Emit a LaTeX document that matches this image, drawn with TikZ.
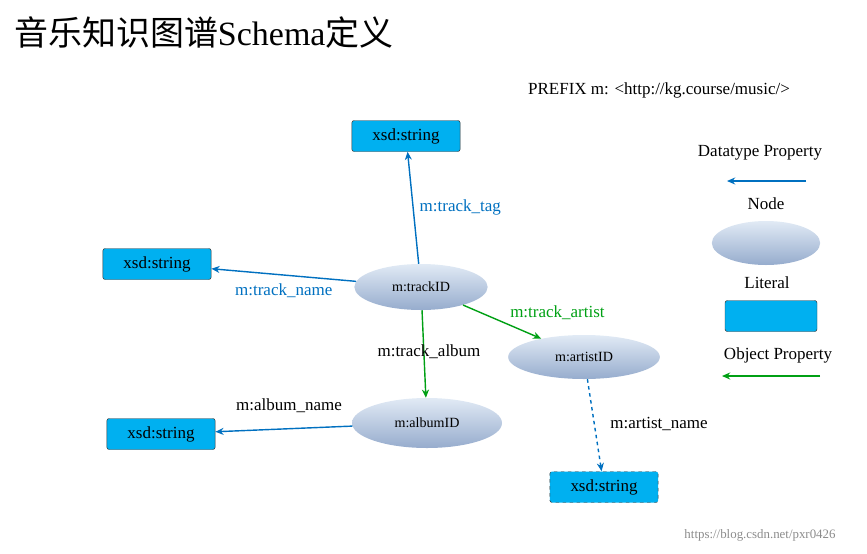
\documentclass[tikz,border=0pt]{standalone}
\usepackage{fontspec}
\setmainfont{Liberation Serif}
\newfontfamily\cjk{Noto Sans CJK SC}
\usetikzlibrary{arrows.meta,shapes.geometric}
\definecolor{boxc}{RGB}{0,176,240}
\definecolor{bl}{RGB}{0,112,192}
\definecolor{gr}{RGB}{0,160,20}
\definecolor{eltop}{RGB}{225,234,245}
\definecolor{elbot}{RGB}{150,172,205}
\begin{document}
\begin{tikzpicture}[x=0.03cm,y=-0.03cm,
 lit/.style={draw=black!80,fill=boxc,rounded corners=2pt,minimum width=108\pgfutil@empty*0.03cm,inner sep=0pt,font=\fontsize{14.5}{16}\selectfont},
 litbox/.style={draw=black!80,fill=boxc,rounded corners=2pt,minimum width=3.25cm,minimum height=0.93cm,inner sep=0pt,font=\fontsize{14.5}{16}\selectfont},
 ent/.style={ellipse,top color=eltop,bottom color=elbot,draw=none,inner sep=0pt,font=\fontsize{12}{14}\selectfont},
 lab/.style={font=\fontsize{14.5}{16}\selectfont,inner sep=1pt},
 dp/.style={bl,line width=1.2pt,-{Stealth[length=7pt,width=6pt]}},
 op/.style={gr,line width=1.2pt,-{Stealth[length=7pt,width=6pt]}}]
\useasboundingbox (0,0) rectangle (867,553);
\node[anchor=west,font=\fontsize{29}{32}\selectfont] (title) at (10,33) {{\cjk 音乐知识图谱}Schema{\cjk 定义}};
\node[font=\fontsize{14.5}{16}\selectfont] (prefix) at (659,90) {PREFIX m: <http://kg.course/music/>};
\node[litbox] (s1) at (406,136) {xsd:string};
\node[litbox] (s2) at (157,264) {xsd:string};
\node[litbox] (s3) at (161,434) {xsd:string};
\node[litbox,dashed] (s4) at (604,487) {xsd:string};
\node[ent,minimum width=4.0cm,minimum height=1.38cm] (track) at (421,287) {m:trackID};
\node[ent,minimum width=4.55cm,minimum height=1.32cm] (artist) at (584,357) {m:artistID};
\node[ent,minimum width=4.5cm,minimum height=1.5cm] (album) at (427,423) {m:albumID};
\draw[dp] (track) -- (s1) node[lab,pos=0.5,right=4pt] {m:track\_tag};
\draw[dp] (track) -- (s2) node[lab,pos=0.5,below=6pt] {m:track\_name};
\draw[op] (track) -- (artist) node[lab,pos=0.55,above right=2pt] {m:track\_artist};
\draw[op] (track) -- (album) node[lab,pos=0.5,left=-62pt] {\rlap{\hspace*{-2pt}}};
\node[lab] (lalbum) at (429,352) {m:track\_album};
\draw[dp] (album) -- (s3);
\node[lab] (lalbname) at (289,406) {m:album\_name};
\draw[dp,dashed] (artist) -- (s4);
\node[lab] (lart) at (659,424) {m:artist\_name};
% legend
\node[lab] (ldp) at (760,153) {Datatype Property};
\coordinate (a1) at (806,181); \coordinate (a2) at (727,181);
\draw[dp] (a1) -- (a2);
\node[lab] (lnode) at (766,204) {Node};
\node[ent,minimum width=3.25cm,minimum height=1.32cm] (legnode) at (766,243) {};
\node[lab] (llit) at (767,283) {Literal};
\node[litbox,minimum width=2.76cm] (leglit) at (771,316) {};
\node[lab] (lop) at (778,355) {Object Property};
\coordinate (b1) at (820,376); \coordinate (b2) at (722,376);
\draw[op] (b1) -- (b2);
\node[font=\fontsize{11}{13}\selectfont,text=black!45] (wm) at (760,535) {https://blog.csdn.net/pxr0426};
\end{tikzpicture}
\end{document}
